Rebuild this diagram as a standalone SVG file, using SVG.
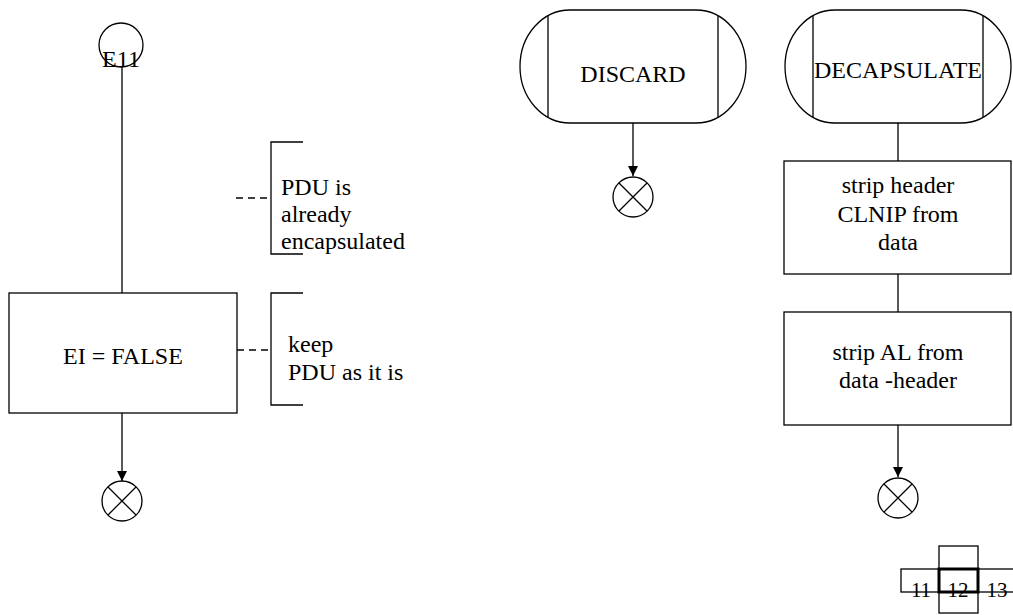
<svg xmlns="http://www.w3.org/2000/svg" width="1013" height="615" viewBox="0 0 1013 615">
<style>
.s{fill:none;stroke:#000;stroke-width:1.3}
.w{fill:#fff;stroke:#000;stroke-width:1.3}
.t{font-family:"Liberation Serif","Times New Roman",serif;font-size:24px;fill:#000}
.m{text-anchor:middle}
.d{fill:none;stroke:#000;stroke-width:1.3;stroke-dasharray:7,5}
.n{font-family:"Liberation Serif","Times New Roman",serif;font-size:21px;fill:#000;text-anchor:middle}
</style>
<defs>
<marker id="ah" markerWidth="10" markerHeight="10" refX="10" refY="5" orient="auto" markerUnits="userSpaceOnUse">
<path d="M0,0 L10,5 L0,10 Z" fill="#000"/>
</marker>
</defs>
<rect width="1013" height="615" fill="#fff"/>
<g id="connectors">
<line class="s" x1="122" y1="67" x2="122" y2="293"/>
<line class="s" x1="122" y1="413" x2="122" y2="481" marker-end="url(#ah)"/>
<line class="d" x1="237" y1="350" x2="271" y2="350"/>
<line class="d" x1="236" y1="198" x2="271" y2="198"/>
<line class="s" x1="633" y1="123" x2="633" y2="176" marker-end="url(#ah)"/>
<line class="s" x1="898" y1="123" x2="898" y2="161"/>
<line class="s" x1="898" y1="274" x2="898" y2="312"/>
<line class="s" x1="898" y1="425" x2="898" y2="477" marker-end="url(#ah)"/>
</g>
<g id="E11">
<circle class="w" cx="121" cy="45" r="22"/>
<text class="t m" x="121" y="67">E11</text>
</g>
<g id="comment1">
<path class="s" d="M303,142 H271 V254 H303"/>
<text class="t" x="281" y="195">PDU is</text>
<text class="t" x="281" y="222">already</text>
<text class="t" x="281" y="249">encapsulated</text>
</g>
<g id="task_ei">
<rect class="w" x="9" y="293" width="228" height="120"/>
<text class="t m" x="123" y="364">EI = FALSE</text>
</g>
<g id="comment2">
<path class="s" d="M303,293 H271 V405 H303"/>
<text class="t" x="288" y="352">keep</text>
<text class="t" x="288" y="380">PDU as it is</text>
</g>
<g id="stop1">
<circle class="w" cx="122" cy="501" r="20"/>
<path class="s" d="M108,487 L136,515 M136,487 L108,515"/>
</g>
<g id="discard">
<path class="w" d="M570,10 H696 A50,56.5 0 0 1 696,123 H570 A50,56.5 0 0 1 570,10 Z"/>
<line class="s" x1="548" y1="16" x2="548" y2="117"/>
<line class="s" x1="718" y1="16" x2="718" y2="117"/>
<text class="t m" x="633" y="82">DISCARD</text>
</g>
<g id="stop2">
<circle class="w" cx="633" cy="197" r="20"/>
<path class="s" d="M619,183 L647,211 M647,183 L619,211"/>
</g>
<g id="decapsulate">
<path class="w" d="M835,10 H961 A50,56.5 0 0 1 961,123 H835 A50,56.5 0 0 1 835,10 Z"/>
<line class="s" x1="813" y1="16" x2="813" y2="117"/>
<line class="s" x1="983" y1="16" x2="983" y2="117"/>
<text class="t m" x="898" y="78">DECAPSULATE</text>
</g>
<g id="task_strip_header">
<rect class="w" x="784" y="161" width="227" height="113"/>
<text class="t m" x="898" y="193">strip header</text>
<text class="t m" x="898" y="222">CLNIP from</text>
<text class="t m" x="898" y="250">data</text>
</g>
<g id="task_strip_al">
<rect class="w" x="784" y="312" width="227" height="113"/>
<text class="t m" x="898" y="360">strip AL from</text>
<text class="t m" x="898" y="388">data -header</text>
</g>
<g id="stop3">
<circle class="w" cx="898" cy="498" r="20"/>
<path class="s" d="M884,484 L912,512 M912,484 L884,512"/>
</g>
<g id="pagenav">
<rect class="s" x="939" y="546" width="39" height="67"/>
<rect class="s" x="901" y="569" width="120" height="23"/>
<rect x="939" y="569" width="39" height="23" fill="none" stroke="#000" stroke-width="3"/>
<text class="n" x="921" y="597">11</text>
<text class="n" x="958" y="597">12</text>
<text class="n" x="997" y="597">13</text>
</g>
</svg>
